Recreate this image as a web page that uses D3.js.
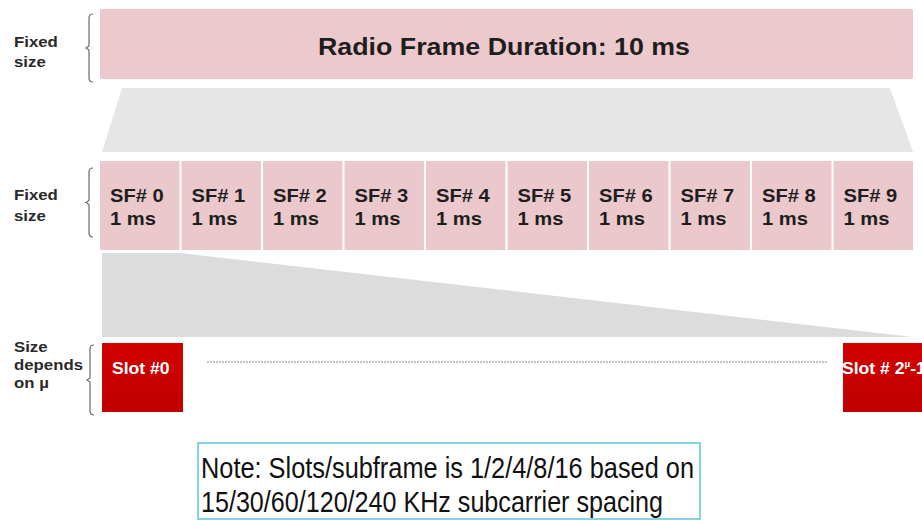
<!DOCTYPE html>
<html>
<head>
<meta charset="utf-8">
<script src="https://cdn.jsdelivr.net/npm/d3@7"></script>
<style>
  body { margin: 0; background: #fff; }
  text { font-family: "Liberation Sans", Arial, sans-serif; }
</style>
</head>
<body>
<div id="chart-area"></div>
<script>
/*
*    NR frame structure: frame -> subframes -> slots
*/

const WIDTH = 922
const HEIGHT = 521

// data
const frameTitle = "Radio Frame Duration: 10 ms"
const subframes = ["SF# 0", "SF# 1", "SF# 2", "SF# 3", "SF# 4", "SF# 5", "SF# 6", "SF# 7", "SF# 8", "SF# 9"]
const subframeDurations = ["1 ms", "1 ms", "1 ms", "1 ms", "1 ms", "1 ms", "1 ms", "1 ms", "1 ms", "1 ms"]
const slots = ["first", "last"]
const sideLabels = [
  ["Fixed", "size"],
  ["Fixed", "size"],
  ["Size", "depends", "on µ"]
]
const noteLines = [
  "Note: Slots/subframe is 1/2/4/8/16 based on",
  "15/30/60/120/240 KHz subcarrier spacing"
]

const svg = d3.select("#chart-area").append("svg")
  .attr("width", WIDTH)
  .attr("height", HEIGHT)

// Scales
const x = d3.scaleBand()
  .domain(subframes)
  .range([100, 913])
  .paddingInner(0.025)
const xSlot = d3.scalePoint()
  .domain(slots)
  .range([102, 843])

const ROW1 = { TOP: 9, BOTTOM: 79 }
const ROW2 = { TOP: 161, BOTTOM: 250 }
const ROW3 = { TOP: 343, BOTTOM: 412 }
const SLOT_W = 81

// Funnels (gray projections)
svg.append("path")
  .attr("d", `M122,88 L890,88 L913,152 L102,152 Z`)
  .attr("fill", "#e6e6e6")
svg.append("path")
  .attr("d", `M102,253 L${x(subframes[0]) + x.bandwidth()},253 L913,337 L102,337 Z`)
  .attr("fill", "#dcdcdc")

// Radio frame bar
svg.append("rect")
  .attr("x", x.range()[0])
  .attr("y", ROW1.TOP)
  .attr("width", x.range()[1] - x.range()[0])
  .attr("height", ROW1.BOTTOM - ROW1.TOP)
  .attr("fill", "#ecc9cc")
svg.append("text")
  .attr("x", 318)
  .attr("y", 55)
  .attr("font-size", "23px")
  .attr("font-weight", "bold")
  .attr("fill", "#1e1e1e")
  .attr("textLength", 372)
  .attr("lengthAdjust", "spacingAndGlyphs")
  .text(frameTitle)

// Subframes
const sf = svg.selectAll("g.sf")
  .data(subframes)
  .enter().append("g")
  .attr("class", "sf")

sf.append("rect")
  .attr("x", d => x(d))
  .attr("y", ROW2.TOP)
  .attr("width", x.bandwidth())
  .attr("height", ROW2.BOTTOM - ROW2.TOP)
  .attr("fill", "#ebc8cb")

sf.append("text")
  .attr("transform", d => `translate(${x(d) + 10}, 202) scale(1.12, 1)`)
  .attr("font-size", "18px")
  .attr("font-weight", "bold")
  .attr("fill", "#1e1e1e")
  .text(d => d)

sf.append("text")
  .attr("transform", d => `translate(${x(d) + 10}, 225) scale(1.12, 1)`)
  .attr("font-size", "18px")
  .attr("font-weight", "bold")
  .attr("fill", "#1e1e1e")
  .text((d, i) => subframeDurations[i])

// Slots
const defs = svg.append("defs")
const grad = defs.append("linearGradient")
  .attr("id", "slotGrad")
  .attr("x1", 0).attr("y1", 0).attr("x2", 0).attr("y2", 1)
grad.append("stop").attr("offset", "0%").attr("stop-color", "#d20000")
grad.append("stop").attr("offset", "100%").attr("stop-color", "#c00000")

svg.selectAll("rect.slot")
  .data(slots)
  .enter().append("rect")
  .attr("class", "slot")
  .attr("x", d => xSlot(d))
  .attr("y", ROW3.TOP)
  .attr("width", SLOT_W)
  .attr("height", ROW3.BOTTOM - ROW3.TOP)
  .attr("fill", "url(#slotGrad)")

svg.append("text")
  .attr("transform", `translate(${xSlot("first") + 10}, 374) scale(1.1, 1)`)
  .attr("font-size", "16px")
  .attr("font-weight", "bold")
  .attr("fill", "#fff")
  .text("Slot #0")

const lastLabel = svg.append("text")
  .attr("transform", `translate(${xSlot("last") - 1}, 374) scale(1.1, 1)`)
  .attr("font-size", "16px")
  .attr("font-weight", "bold")
  .attr("fill", "#fff")
lastLabel.append("tspan").text("Slot # 2")
lastLabel.append("tspan").attr("font-size", "9px").attr("dy", -7).text("µ")
lastLabel.append("tspan").attr("dy", 7).text("-1")

// dotted line between slots
svg.append("line")
  .attr("x1", xSlot("first") + SLOT_W + 24)
  .attr("x2", xSlot("last") - 15)
  .attr("y1", 362)
  .attr("y2", 362)
  .attr("stroke", "#8a8a8a")
  .attr("stroke-width", 1)
  .attr("stroke-dasharray", "2,1")

// Side labels + brackets
const rows = [
  { top: 14, bottom: 82, base: 47, step: 20, bx: 89 },
  { top: 168, bottom: 237, base: 200, step: 21, bx: 89 },
  { top: 345, bottom: 415, base: 352, step: 18, bx: 90 }
]

rows.forEach((r, i) => {
  const mid = (r.top + r.bottom) / 2
  svg.append("path")
    .attr("d", `M${r.bx + 4},${r.top} Q${r.bx},${r.top} ${r.bx},${r.top + 4} L${r.bx},${mid - 2} L${r.bx - 3},${mid} L${r.bx},${mid + 2} L${r.bx},${r.bottom - 4} Q${r.bx},${r.bottom} ${r.bx + 4},${r.bottom}`)
    .attr("fill", "none")
    .attr("stroke", "#6a6a6a")
    .attr("stroke-width", 1.2)

  sideLabels[i].forEach((line, j) => {
    svg.append("text")
      .attr("transform", `translate(14, ${r.base + j * r.step}) scale(1.12, 1)`)
      .attr("font-size", "15px")
      .attr("font-weight", "bold")
      .attr("fill", "#2a2a2a")
      .text(line)
  })
})

// Note box
svg.append("rect")
  .attr("x", 198)
  .attr("y", 443)
  .attr("width", 502)
  .attr("height", 76)
  .attr("fill", "#fff")
  .attr("stroke", "#5cc6d6")
  .attr("stroke-width", 1.5)

const noteWidths = [493, 462]
noteLines.forEach((line, i) => {
  svg.append("text")
    .attr("x", 201)
    .attr("y", 478 + i * 34)
    .attr("font-size", "29px")
    .attr("fill", "#111")
    .attr("textLength", noteWidths[i])
    .attr("lengthAdjust", "spacingAndGlyphs")
    .text(line)
})
</script>
</body>
</html>
